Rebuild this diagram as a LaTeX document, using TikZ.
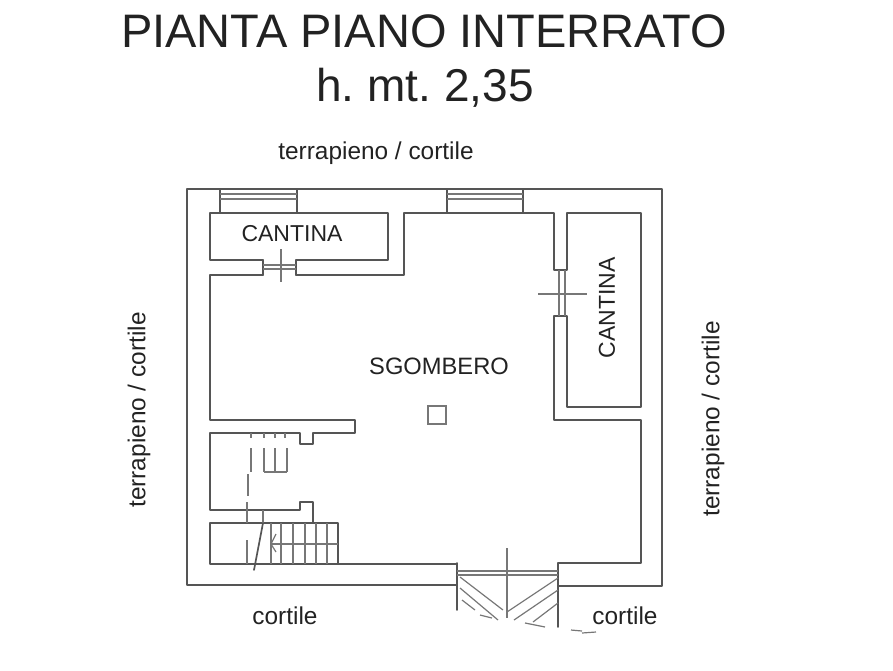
\documentclass[tikz,border=0pt]{standalone}
\usepackage{fontspec}
\setmainfont{Liberation Sans}
\definecolor{wall}{HTML}{555555}
\definecolor{thin}{HTML}{777777}
\definecolor{ink}{HTML}{222222}
\tikzset{
 wallline/.style={draw=wall,line width=1.7pt,line cap=round,line join=round},
 fineline/.style={draw=thin,line width=1.2pt},
 title/.style={text=ink,font=\fontsize{47}{47}\selectfont,inner sep=0pt,anchor=center},
 titletwo/.style={text=ink,font=\fontsize{46}{46}\selectfont\frenchspacing,inner sep=0pt,anchor=center},
 site/.style={text=ink,font=\fontsize{24.4}{25}\selectfont,inner sep=0pt,anchor=center},
 room/.style={text=ink,font=\fontsize{23}{24}\selectfont,inner sep=0pt,anchor=center},
 roomwide/.style={text=ink,font=\fontsize{23.7}{24}\selectfont,inner sep=0pt,anchor=center}
}
\begin{document}
\begin{tikzpicture}[x=1pt,y=-1pt]
\useasboundingbox (0,0) rectangle (893,670);
% titles
\node[title] (t1) at (424,31) {PIANTA PIANO INTERRATO};
\node[titletwo] (t2) at (425,88) {h. mt. 2,35};
\node[site] (s1) at (376,153) {terrapieno / cortile};
\node[site,rotate=90] (s2) at (139,410) {terrapieno / cortile};
\node[site,rotate=90] (s3) at (713,419) {terrapieno / cortile};
\node[site] (s4) at (285,616) {cortile};
\node[site] (s5) at (625,616) {cortile};
\node[room] (r1) at (292,234) {CANTINA};
\node[room,rotate=90] (r2) at (607,308) {CANTINA};
\node[roomwide] (r3) at (439,366) {SGOMBERO};
% outer wall
\draw[wallline] (457,585) -- (187,585) -- (187,189) -- (662,189) -- (662,586) -- (558,586);
% windows
\draw[wallline] (220,213) -- (220,189) (297,213) -- (297,189);
\draw[fineline] (220,194) -- (297,194) (220,199) -- (297,199);
\draw[wallline] (447,213) -- (447,189) (523,213) -- (523,189);
\draw[fineline] (447,194) -- (523,194) (447,199) -- (523,199);
% top-left cantina
\draw[wallline] (263,260) -- (210,260) -- (210,213) -- (388,213) -- (388,260) -- (296,260);
% door top-left
\draw[wallline] (263,260) -- (263,275) (296,260) -- (296,275);
\draw[fineline] (263,265) -- (296,265) (263,269) -- (296,269);
\draw[fineline] (281,249) -- (281,282);
% main room wall
\draw[wallline] (263,275) -- (210,275) -- (210,420) -- (355,420) -- (355,433) -- (313,433) -- (313,444) -- (300,444) -- (300,433) -- (210,433) -- (210,510) -- (300,510) -- (300,502) -- (313,502) -- (313,523);
\draw[wallline] (296,275) -- (404,275) -- (404,213) -- (554,213) -- (554,270) -- (567,270) -- (567,213) -- (641,213) -- (641,407) -- (567,407) -- (567,316) -- (554,316) -- (554,420) -- (641,420) -- (641,563) -- (558,563) -- (558,627);
% door right
\draw[fineline] (559,270) -- (559,316) (565,270) -- (565,316);
\draw[fineline] (538,294) -- (587,294);
% column
\draw[fineline] (428,406) rectangle (446,424);
% stairs, lower flight
\draw[wallline] (457,564) -- (210,564) -- (210,523) -- (338,523) -- (338,564);
\draw[wallline] (457,563) -- (457,610);
\foreach \xa in {271,281,293,305,316,327}
  \draw[fineline] (\xa,523) -- (\xa,564);
\draw[fineline] (247,502) -- (247,523) (263,510) -- (263,523) (247,540) -- (247,564);
\draw[fineline] (271,544) -- (338,544);
\draw[fineline] (276,534) -- (271,544) -- (276,552);
\draw[wallline] (263,523) -- (254,570);
% stairs, upper flight
\foreach \xa in {251,264,275,285}
  \draw[fineline] (\xa,433) -- (\xa,438);
\draw[fineline] (251,448) -- (251,472) (264,448) -- (264,472) (275,448) -- (275,472) (287,448) -- (287,472);
\draw[fineline] (264,472) -- (287,472);
\draw[fineline] (248,474) -- (248,496);
% entrance
\draw[fineline] (457,571) -- (558,571) (457,575) -- (558,575);
\draw[fineline] (507,548) -- (507,618);
\draw[fineline] (460,577) -- (503,610) (460,588) -- (498,620) (462,600) -- (475,610) (480,615) -- (492,618);
\draw[fineline] (558,578) -- (507,612) (558,590) -- (514,620) (558,603) -- (533,622) (525,623) -- (545,627);
\draw[fineline] (571,630) -- (582,631) (582,633) -- (596,632);
\end{tikzpicture}
\end{document}
